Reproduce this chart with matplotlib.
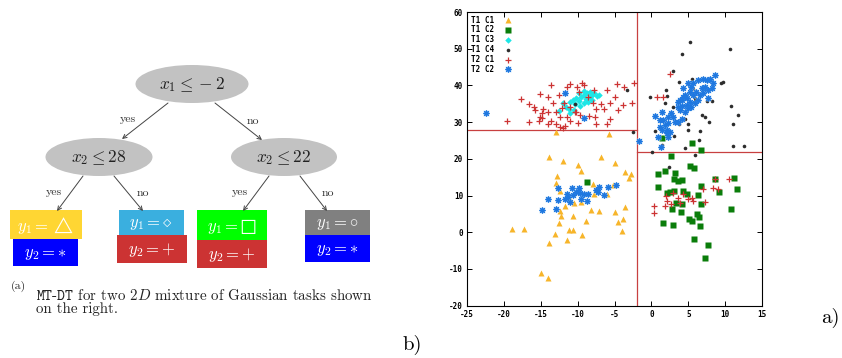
import numpy as np
import matplotlib
matplotlib.use("Agg")
import matplotlib.pyplot as plt
from matplotlib.patches import Ellipse, Rectangle

plt.rcParams['mathtext.fontset'] = 'cm'
plt.rcParams['axes.formatter.use_mathtext'] = True

# ---- scatter data: (x, y) for each task / class ----
t1c1 = np.array([(-13.96, 20.4), (-12.0, 19.4), (-10.0, 18.3), (-9.6, 16.7), (-6.9, 20.6), (-5.0, 19.0),
                 (-3.6, 16.5), (-2.74, 15.8), (-3.0, 14.7), (-12.8, 15.3), (-12.9, 13.5), (-7.9, 13.2),
                 (-5.2, 12.9), (-6.0, 10.3), (-12.4, 11.3), (-11.1, 9.1), (-10.5, 8.1), (-9.6, 8.35),
                 (-11.7, 7.3), (-12.4, 5.9), (-12.3, 4.4), (-10.7, 4.4), (-12.6, 2.6), (-8.9, 3.2),
                 (-8.2, 6.1), (-7.1, 5.9), (-4.9, 5.5), (-3.65, 7.0), (-3.8, 3.7), (-4.6, 2.7),
                 (-4.05, 0.36), (-11.2, 0.63), (-10.7, 0.63), (-13.1, -0.46), (-9.4, -0.83), (-11.5, -2.1),
                 (-13.9, -2.8), (-17.3, 0.8), (-19.0, 1.0), (-15.0, -11.0), (-14.0, -12.5), (-7.8, 10.4),
                 (-13.0, 27.4), (-5.8, 26.9)])

t1c2 = np.array([(2.64, 20.8), (0.83, 15.8), (1.78, 16.6), (3.2, 16.2), (5.22, 18.0), (5.81, 17.6),
                 (6.7, 22.3), (5.5, 24.4), (3.05, 14.5), (3.55, 13.9), (4.1, 14.2), (0.93, 12.3),
                 (2.06, 10.6), (2.5, 10.9), (3.1, 11.3), (4.27, 11.3), (4.86, 10.3), (6.26, 10.2),
                 (6.71, 12.5), (6.71, 7.6), (4.18, 7.8), (3.32, 7.9), (2.82, 6.4), (4.05, 5.4),
                 (6.17, 5.1), (6.44, 4.1), (5.13, 3.5), (5.54, 3.1), (1.51, 2.5), (2.87, 1.9),
                 (6.62, 1.7), (5.76, -1.7), (7.62, -3.5), (7.26, -7.0), (8.61, 14.4), (9.2, 10.9),
                 (11.2, 14.9), (11.6, 11.7), (10.8, 6.3), (-8.7, 13.8), (1.42, 25.6)])

t1c3 = np.array([(-12.6, 33.1), (-12.0, 35.3), (-11.6, 34.2), (-11.2, 33.5), (-11.1, 35.6), (-10.6, 36.1),
                 (-10.4, 34.9), (-10.2, 36.5), (-9.8, 35.9), (-9.5, 36.9), (-9.2, 37.4), (-8.9, 36.2),
                 (-8.8, 37.9), (-8.4, 36.8), (-8.1, 37.4), (-7.8, 37.9), (-7.4, 37.1), (-7.1, 37.5),
                 (-8.6, 35.6), (-9.2, 35.1), (-9.7, 34.4), (-10.5, 33.3), (-11.1, 32.6), (-8.1, 36.1),
                 (-8.4, 38.3), (-9.1, 38.6), (-9.8, 37.9)])

t1c4 = np.array([(-10.4, 34.9), (-3.3, 38.8), (-2.5, 27.3), (5.2, 51.8), (4.2, 48.5), (10.7, 50.0),
                 (2.87, 44.0), (3.68, 41.0), (5.5, 41.9), (5.58, 39.1), (9.74, 40.9), (9.5, 40.7),
                 (1.96, 38.7), (-0.16, 37.0), (2.05, 37.2), (1.87, 35.2), (2.87, 34.1), (4.54, 36.5),
                 (5.9, 36.5), (5.9, 35.8), (7.5, 35.9), (8.2, 35.9), (10.8, 34.5), (3.95, 30.8),
                 (4.5, 31.0), (3.7, 29.5), (4.9, 29.5), (5.0, 27.9), (6.6, 27.7), (6.9, 32.0),
                 (7.2, 31.5), (7.8, 30.1), (11.1, 29.6), (11.7, 32.0), (0.51, 27.7), (3.1, 26.2),
                 (6.4, 25.1), (4.6, 23.0), (11.1, 23.4), (12.5, 23.4), (0.06, 21.8), (5.85, 21.1),
                 (1.47, 23.9), (2.33, 17.7)])

t2c1 = np.array([(-19.66, 30.2), (-16.6, 30.1), (-17.7, 36.3), (-16.6, 34.9), (-16.0, 34.1), (-15.1, 37.6),
                 (-14.1, 37.0), (-13.7, 40.2), (-12.5, 37.3), (-11.4, 39.7), (-11.1, 40.3), (-10.1, 39.6),
                 (-9.4, 40.6), (-9.2, 40.0), (-7.8, 38.9), (-6.0, 38.9), (-4.7, 40.5), (-3.7, 39.5),
                 (-2.4, 40.8), (-5.0, 37.0), (-3.9, 34.8), (-2.7, 35.1), (-5.6, 35.1), (-6.8, 34.9),
                 (-6.5, 33.6), (-4.6, 33.2), (-7.5, 33.6), (-7.7, 31.5), (-7.5, 29.4), (-6.1, 29.5),
                 (-5.6, 31.0), (-8.5, 31.6), (-9.7, 32.0), (-10.4, 32.8), (-11.1, 34.1), (-12.2, 33.9),
                 (-12.9, 32.9), (-14.1, 32.7), (-14.7, 33.5), (-15.1, 31.5), (-14.9, 32.4), (-15.8, 33.2),
                 (-15.3, 30.2), (-14.0, 29.4), (-13.6, 30.3), (-12.9, 29.4), (-12.4, 28.8), (-12.0, 28.3),
                 (-11.8, 29.1), (-11.1, 30.3), (-11.4, 31.5), (-10.0, 29.7), (-9.8, 38.3), (-8.6, 37.0),
                 (-7.9, 35.3), (-11.9, 35.1), (-12.4, 31.5), (-13.3, 35.1), (-10.2, 32.9), (-14.8, 31.1),
                 (2.5, 43.0), (0.7, 36.9), (1.6, 37.0),
                 (0.38, 7.26), (0.38, 5.26), (1.83, 7.2), (1.92, 10.0), (2.15, 8.5), (2.6, 7.6),
                 (2.96, 10.8), (3.55, 9.4), (3.86, 7.9), (4.32, 10.3), (5.0, 9.0), (5.45, 9.3),
                 (5.58, 8.5), (7.03, 11.8), (7.26, 8.35), (8.39, 12.2), (8.61, 14.4), (9.07, 11.7),
                 (10.47, 14.5)])

t2c2 = np.array([(-22.4, 32.6), (-11.7, 37.9), (-9.1, 31.05), (-1.7, 25.0),
                 (1.24, 23.3), (0.47, 31.8), (1.37, 32.9), (1.6, 30.6), (1.15, 28.8), (2.05, 27.9),
                 (2.5, 27.4), (2.3, 29.7), (1.8, 29.2), (2.7, 32.4), (3.2, 30.1), (3.6, 30.1),
                 (4.1, 31.0), (3.86, 33.3), (3.6, 35.6), (4.1, 36.0), (4.3, 37.0), (4.8, 36.5),
                 (5.2, 35.6), (5.0, 33.8), (4.5, 32.9), (5.4, 34.2), (5.9, 35.1), (6.3, 36.0),
                 (6.6, 37.4), (7.0, 37.9), (6.8, 39.2), (7.25, 39.7), (7.7, 38.8), (8.2, 39.2),
                 (8.6, 42.9), (7.9, 41.9), (7.5, 41.5), (7.0, 41.9), (6.3, 41.5), (5.7, 40.6),
                 (5.0, 40.6), (5.4, 39.7), (4.3, 39.2), (4.5, 37.4), (7.7, 36.5), (8.4, 40.8),
                 (6.1, 38.3), (5.7, 37.4), (5.2, 38.3), (4.8, 34.7), (3.86, 36.0), (3.6, 34.2),
                 (4.1, 34.4), (0.92, 26.0), (2.3, 26.0), (2.05, 27.0), (1.37, 27.9), (1.15, 30.6),
                 (2.3, 31.5), (2.96, 31.3),
                 (-14.8, 6.0), (-14.1, 9.0), (-13.0, 6.3), (-12.65, 8.8), (-12.7, 12.0), (-11.7, 9.0),
                 (-11.5, 10.4), (-11.3, 9.7), (-10.8, 12.2), (-10.6, 10.2), (-9.8, 12.0), (-9.7, 10.6),
                 (-9.5, 9.0), (-9.2, 10.3), (-8.8, 8.5), (-8.6, 10.3), (-7.5, 11.5), (-7.1, 12.4),
                 (-7.2, 10.9), (-6.5, 10.2), (-5.9, 12.4), (-4.8, 12.9), (-10.2, 11.1), (-11.1, 8.35)])

# tree split thresholds
split_x1 = -2
split_left = 28
split_right = 22

fig = plt.figure(figsize=(8.42, 3.58), dpi=100)

# ---------------- left: decision tree ----------------
ta = fig.add_axes([0, 0, 430 / 842, 1])
ta.set_xlim(0, 430)
ta.set_ylim(358, 0)
ta.axis('off')

node_col = '#c2c2c2'
nodes = [((192, 84), 113, 38, r'$x_1 \leq -2$'),
         ((99, 157), 107, 38, r'$x_2 \leq 28$'),
         ((284, 157), 106, 38, r'$x_2 \leq 22$')]
for (cx, cy), w, h, lab in nodes:
    ta.add_patch(Ellipse((cx, cy), w, h, facecolor=node_col, edgecolor='none'))
    ta.text(cx, cy + 1, lab, ha='center', va='center', fontsize=12.5, color='#222222')

edges = [((168, 103), (122, 139), 'yes', (128, 119)),
         ((215, 103), (262, 140), 'no', (253, 121)),
         ((83, 176), (57, 211), 'yes', (54, 192)),
         ((114, 176), (143, 211), 'no', (143, 193)),
         ((269, 176), (243, 211), 'yes', (240, 192)),
         ((300, 176), (327, 211), 'no', (328, 193))]
for p0, p1, lab, lp in edges:
    ta.annotate('', xy=p1, xytext=p0,
                arrowprops=dict(arrowstyle='->', color='#444444', lw=0.7,
                                shrinkA=0, shrinkB=0, mutation_scale=7))
    ta.text(lp[0], lp[1], lab, ha='center', va='center', fontsize=8.5,
            family='cmr10', color='#333333')

# leaf boxes: (x0, y0, x1, y1, colour, label)
leaves = [(10, 210, 82, 239, '#ffd633', r'$y_1 = \triangle$'),
          (13, 239, 78, 266, '#0000ff', r'$y_2 = \ast$'),
          (119, 210, 184, 235, '#3aafdf', r'$y_1 = \diamond$'),
          (117, 235, 187, 263, '#cc3333', r'$y_2 = +$'),
          (197, 210, 267, 240, '#00ff00', '$y_1 = \u25a1$'),
          (197, 240, 267, 268, '#cc3333', r'$y_2 = +$'),
          (305, 210, 370, 235, '#808080', r'$y_1 = \circ$'),
          (305, 235, 370, 262, '#0000ff', r'$y_2 = \ast$')]
for x0, y0, x1, y1, c, lab in leaves:
    ta.add_patch(Rectangle((x0, y0), x1 - x0, y1 - y0, facecolor=c, edgecolor='none'))
    ta.text((x0 + x1) / 2, (y0 + y1) / 2 + 1, lab, ha='center', va='center',
            fontsize=12, color='white')

ta.text(11, 286, '(a)', fontsize=8.5, family='cmr10', va='center', color='#222222')
ta.text(36, 295, r'$\mathtt{MT}$-$\mathtt{DT}$ for two $2D$ mixture of Gaussian tasks shown',
        fontsize=10.8, family='cmr10', va='center', color='#222222')
ta.text(36, 309, 'on the right.', fontsize=10.8, family='cmr10', va='center', color='#222222')
ta.text(412, 345, 'b)', fontsize=15, family='cmr10', ha='center', va='center')

# ---------------- right: scatter of the two tasks ----------------
ax = fig.add_axes([467.3 / 842, 1 - 305.7 / 358, 294.7 / 842, 293.6 / 358])
ax.set_xlim(-25, 15)
ax.set_ylim(-20, 60)

red = '#c84040'
ax.axvline(split_x1, color=red, lw=0.9, zorder=1)
ax.plot([-25, split_x1], [split_left, split_left], color=red, lw=0.9, zorder=1)
ax.plot([split_x1, 15], [split_right, split_right], color=red, lw=0.9, zorder=1)

h1, = ax.plot(t1c1[:, 0], t1c1[:, 1], '^', ms=4.3, color='#f7b52a', mec='none', ls='none', label='T1 C1')
h2, = ax.plot(t1c2[:, 0], t1c2[:, 1], 's', ms=3.8, color='#0a7d0a', mec='none', ls='none', label='T1 C2')
h3, = ax.plot(t1c3[:, 0], t1c3[:, 1], 'D', ms=3.3, color='#1ee6e6', mec='none', ls='none', label='T1 C3')
h4, = ax.plot(t1c4[:, 0], t1c4[:, 1], 'o', ms=2.6, color='#2d2d2d', mec='none', ls='none', label='T1 C4')
h5, = ax.plot(t2c1[:, 0], t2c1[:, 1], '+', ms=4.5, mew=0.9, color='#cc3333', ls='none', label='T2 C1')
h6a, = ax.plot(t2c2[:, 0], t2c2[:, 1], 's', ms=4.2, color='#b8d8f4', mec='none', ls='none', alpha=0.7)
h6b, = ax.plot(t2c2[:, 0], t2c2[:, 1], marker=(8, 2, 0), ms=4.2, mew=0.8, color='#1f78e0', ls='none')

leg = ax.legend([h1, h2, h3, h4, h5, (h6a, h6b)],
                ['T1 C1', 'T1 C2', 'T1 C3', 'T1 C4', 'T2 C1', 'T2 C2'],
                loc='upper left', markerfirst=False, frameon=False,
                prop={'family': 'DejaVu Sans Mono', 'weight': 'bold', 'size': 5.5},
                handlelength=1.0, handletextpad=1.4, labelspacing=0.12,
                borderaxespad=0.15, borderpad=0.3)

ax.set_xticks(np.arange(-25, 16, 5))
ax.set_yticks(np.arange(-20, 61, 10))
ax.tick_params(direction='in', top=True, right=True, length=3.5, width=0.7,
               labelsize=5.5, pad=3)
ax.xaxis.set_major_formatter(matplotlib.ticker.FuncFormatter(lambda v, p: '%d' % v))
ax.yaxis.set_major_formatter(matplotlib.ticker.FuncFormatter(lambda v, p: '%d' % v))
for lab in ax.get_xticklabels() + ax.get_yticklabels():
    lab.set_family('DejaVu Sans Mono')
    lab.set_fontweight('bold')
for s in ax.spines.values():
    s.set_linewidth(0.8)

fig.text(830 / 842, 1 - 318 / 358, 'a)', fontsize=15, family='cmr10', ha='center', va='center')

fig.savefig('out.png', dpi=100)
